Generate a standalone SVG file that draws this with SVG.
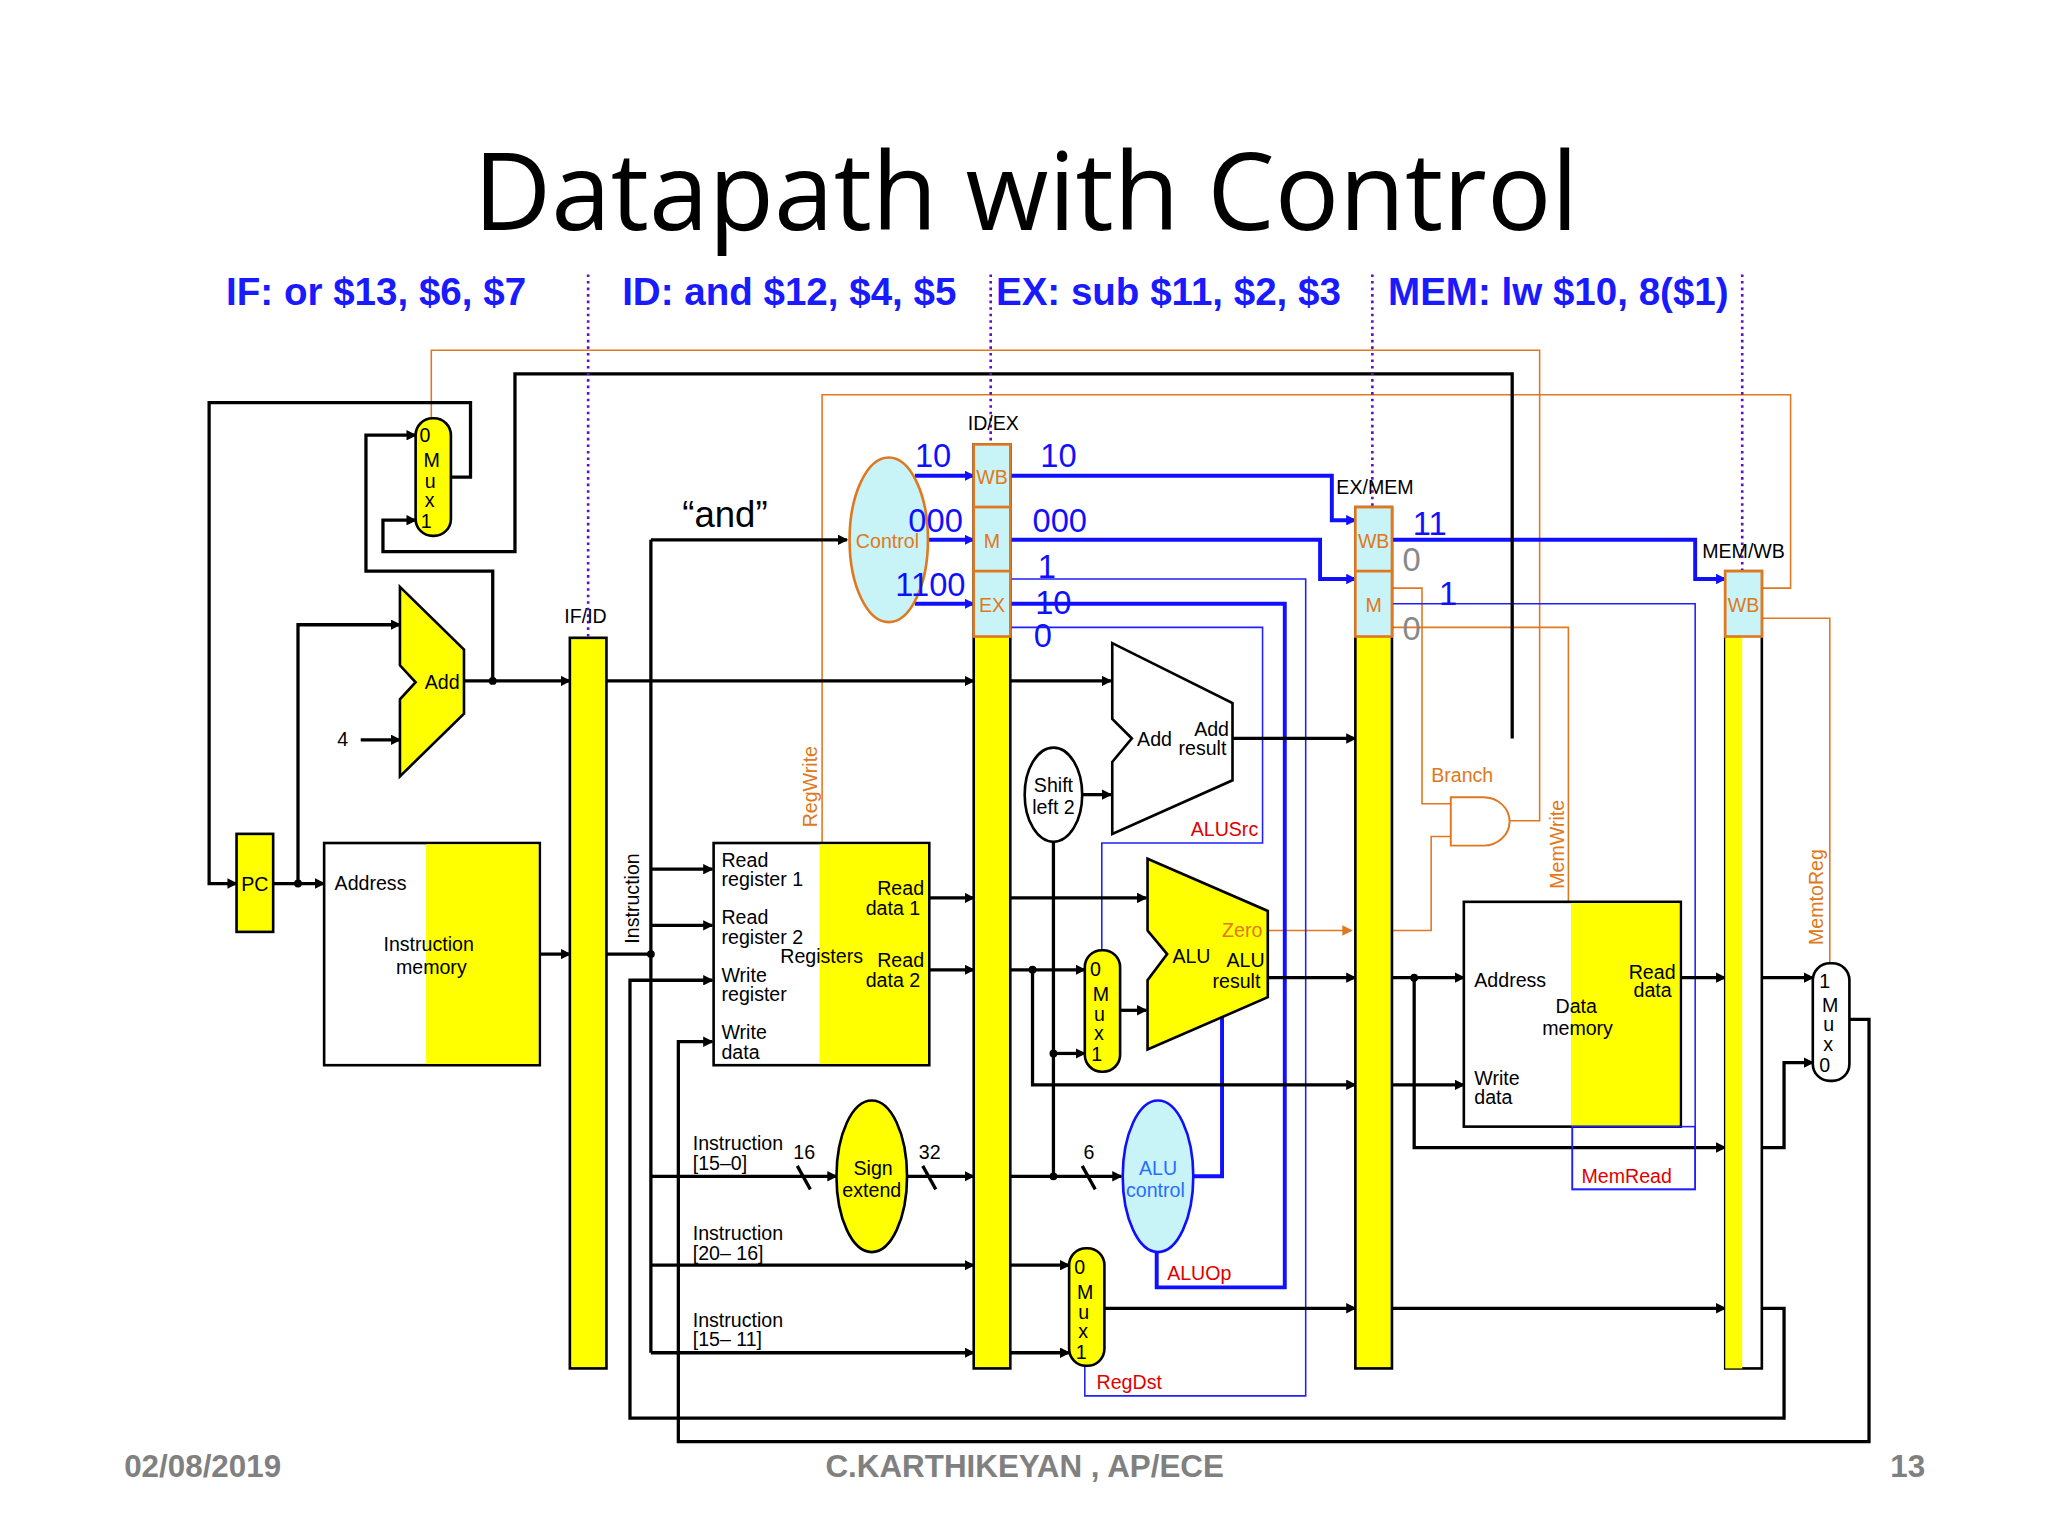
<svg xmlns="http://www.w3.org/2000/svg" width="2048" height="1536" viewBox="0 0 2048 1536">
<defs>
<marker id="ab" markerWidth="8" markerHeight="8" refX="7" refY="4" orient="auto" markerUnits="userSpaceOnUse"><path d="M0,0 L8,4 L0,8 z" fill="#000"/></marker>
<marker id="ao" markerWidth="8" markerHeight="8" refX="7" refY="4" orient="auto" markerUnits="userSpaceOnUse"><path d="M0,0 L8,4 L0,8 z" fill="#e07820"/></marker>
<marker id="au" markerWidth="8" markerHeight="8" refX="7" refY="4" orient="auto" markerUnits="userSpaceOnUse"><path d="M0,0 L8,4 L0,8 z" fill="#1010ff"/></marker>
</defs>
<style>
text{font-family:"Liberation Sans",Arial,sans-serif;fill:#000}
.k{fill:none;stroke:#000;stroke-width:2.5}
.ka{fill:none;stroke:#000;stroke-width:2.5;marker-end:url(#ab)}
.o{fill:none;stroke:#e07820;stroke-width:1.2}
.oa{fill:none;stroke:#e07820;stroke-width:1.2;marker-end:url(#ao)}
.u{fill:none;stroke:#1010ff;stroke-width:3}
.ua{fill:none;stroke:#1010ff;stroke-width:3;marker-end:url(#au)}
.ut{fill:none;stroke:#2020ff;stroke-width:1.2}
.y{fill:#ffff00;stroke:#000;stroke-width:2}
.c{fill:#c8f4f8;stroke:#e07820;stroke-width:2}
.w{fill:#fff;stroke:#000;stroke-width:2}
.s{font-size:15px}
.st{font-size:29.5px;font-weight:bold;fill:#1a1aff}
.ot{fill:#e07820;font-size:15px}
.rt{fill:#e00000;font-size:15px}
.bn{fill:#1010ff;font-size:25px}
.dot{fill:none;stroke:#6010c0;stroke-width:2;stroke-dasharray:2,3}
.ft{font-size:24px;font-weight:bold;fill:#808080}
</style>
<rect width="2048" height="1536" fill="#fff"/>
<g transform="scale(1.307)">
<text x="785" y="176" font-size="82" text-anchor="middle" style="font-family:'Open Sans','Liberation Sans',sans-serif">Datapath with Control</text>
<g id="stages">
<text x="173" y="233" class="st">IF: or $13, $6, $7</text>
<text x="476" y="233" class="st">ID: and $12, $4, $5</text>
<text x="762" y="233" class="st">EX: sub $11, $2, $3</text>
<text x="1062" y="233" class="st">MEM: lw $10, 8($1)</text>
</g>
<g id="footer">
<text x="95" y="1130" class="ft">02/08/2019</text>
<text x="784" y="1130" class="ft" text-anchor="middle">C.KARTHIKEYAN , AP/ECE</text>
<text x="1473" y="1130" class="ft" text-anchor="end">13</text>
</g>

<g id="connectors">
<path class="o" d="M1155,628 H1178 V268 H330 V320"/>
<path class="o" d="M1348,450 H1370 V302 H629 V645"/>
<path class="o" d="M1348,473 H1400 V737"/>
<path class="o" d="M1065,480 H1200 V690"/>
<path class="o" d="M1065,450 H1088 V615 H1110"/>
<path class="oa" d="M970,712 H1034"/>
<path class="o" d="M1065,712 H1095 V640 H1110"/>
<path class="ua" d="M700,364 H745"/>
<path class="ua" d="M708,413 H745"/>
<path class="ua" d="M700,462 H745"/>
<path class="ua" d="M773,364 H1019 V398 H1037"/>
<path class="ua" d="M773,413 H1010 V443 H1037"/>
<path class="u" d="M773,462 H983 V985 H885 V958"/>
<path class="ut" d="M773,443 H999 V1068 H830 V1045"/>
<path class="ut" d="M773,480 H966 V645 H843 V727"/>
<path class="ua" d="M1065,413 H1297 V443 H1320"/>
<path class="ut" d="M1065,462 H1297 V910 H1203 V862"/>
<path class="u" d="M913,900 H935 V778"/>
<path class="ka" d="M345,365 H360 V308 H160 V676 H181"/>
<path class="ka" d="M209,676 H248"/>
<path class="ka" d="M228,676 V478 H306"/>
<path class="ka" d="M276,566 H306"/>
<path class="ka" d="M355,521 H436"/>
<path class="ka" d="M377,521 V437 H280 V333 H318"/>
<path class="ka" d="M1157,565 V286 H394 V422 H293 V398 H318"/>
<path class="ka" d="M413,730 H436"/>
<path class="ka" d="M464,521 H745"/>
<path class="k" d="M464,730 H498 M498,413 V1035"/>
<path class="ka" d="M498,413 H648"/>
<path class="ka" d="M498,665 H545"/>
<path class="ka" d="M498,708 H545"/>
<path class="ka" d="M498,900 H640"/>
<path class="k" d="M610,892 L620,910"/>
<path class="ka" d="M498,968 H745"/>
<path class="ka" d="M498,1035 H745"/>
<path class="ka" d="M1348,1001 H1365 V1085 H482 V750 H545"/>
<path class="ka" d="M1415,780 H1430 V1103 H519 V797 H545"/>
<path class="ka" d="M711,687 H745"/>
<path class="ka" d="M711,742 H745"/>
<path class="ka" d="M694,900 H745"/>
<path class="k" d="M706,892 L716,910"/>
<path class="ka" d="M773,521 H850"/>
<path class="ka" d="M773,687 H877"/>
<path class="ka" d="M773,742 H830"/>
<path class="ka" d="M790,742 V830 H1037"/>
<path class="ka" d="M773,900 H858"/>
<path class="k" d="M828,892 L838,910"/>
<path class="k" d="M806,900 V644"/>
<path class="ka" d="M806,806 H830"/>
<path class="ka" d="M828,608 H850"/>
<path class="ka" d="M857,773 H877"/>
<path class="ka" d="M943,565 H1037"/>
<path class="ka" d="M970,748 H1037"/>
<path class="ka" d="M773,968 H818"/>
<path class="ka" d="M773,1035 H818"/>
<path class="ka" d="M845,1001 H1037"/>
<path class="ka" d="M1065,748 H1120"/>
<path class="ka" d="M1082,748 V878 H1320"/>
<path class="ka" d="M1065,830 H1120"/>
<path class="ka" d="M1065,1001 H1320"/>
<path class="ka" d="M1286,748 H1320"/>
<path class="ka" d="M1348,748 H1387"/>
<path class="ka" d="M1348,878 H1365 V813 H1387"/>
<g fill="#000"><circle cx="228" cy="676" r="3"/><circle cx="377" cy="521" r="3"/><circle cx="498" cy="730" r="3"/><circle cx="790" cy="742" r="3"/><circle cx="806" cy="900" r="3"/><circle cx="806" cy="806" r="3"/><circle cx="1082" cy="748" r="3"/></g>
</g>

<g id="dotted">
<path class="dot" d="M450,210 V495 M758,210 V345 M1050,210 V392 M1333,210 V440"/>
</g>

<g id="pcmux"><rect x="318" y="320" width="27" height="90" rx="13" class="y"/>
<text x="321" y="338" class="s">0</text><text x="324" y="357" class="s">M</text><text x="325" y="373" class="s">u</text><text x="325" y="388" class="s">x</text><text x="322" y="404" class="s">1</text></g>
<g id="pc"><rect x="181" y="638" width="28" height="75" class="y"/><text x="195" y="682" class="s" text-anchor="middle">PC</text></g>
<g id="add1"><path d="M306,449 L355,497 L355,546 L306,594 L306,535 L318,522 L306,509 z" class="y"/><text x="325" y="527" class="s">Add</text><text x="258" y="571" class="s">4</text></g>
<g id="imem"><rect x="248" y="645" width="165" height="170" class="w"/><rect x="326" y="646" width="86" height="168" fill="#ffff00"/>
<text x="256" y="681" class="s">Address</text><text x="328" y="728" class="s" text-anchor="middle">Instruction</text><text x="330" y="745" class="s" text-anchor="middle">memory</text></g>
<g id="ifid"><rect x="436" y="488" width="28" height="559" class="y"/><text x="448" y="477" class="s" text-anchor="middle" font-size="14">IF/ID</text></g>
<text x="489" y="722" class="s" transform="rotate(-90 489 722)">Instruction</text>
<text x="522" y="403" font-size="28">“and”</text>
<g id="control"><ellipse cx="680" cy="413" rx="30" ry="63" class="c"/><text x="679" y="419" class="ot" text-anchor="middle">Control</text>
<text x="700" y="357" class="bn">10</text><text x="695" y="407" class="bn">000</text><text x="685" y="456" class="bn">1100</text></g>
<g id="regs"><rect x="546" y="645" width="165" height="170" class="w"/><rect x="627" y="646" width="83" height="168" fill="#ffff00"/>
<text x="552" y="663" class="s">Read</text><text x="552" y="678" class="s">register 1</text>
<text x="552" y="707" class="s">Read</text><text x="552" y="722" class="s">register 2</text>
<text x="597" y="737" class="s">Registers</text>
<text x="552" y="751" class="s">Write</text><text x="552" y="766" class="s">register</text>
<text x="552" y="795" class="s">Write</text><text x="552" y="810" class="s">data</text>
<text x="707" y="685" class="s" text-anchor="end">Read</text><text x="704" y="700" class="s" text-anchor="end">data 1</text>
<text x="707" y="740" class="s" text-anchor="end">Read</text><text x="704" y="755" class="s" text-anchor="end">data 2</text>
<text x="625" y="633" class="ot" transform="rotate(-90 625 633)">RegWrite</text></g>
<g id="signext"><ellipse cx="667" cy="900" rx="27" ry="58" class="y"/><text x="668" y="899" class="s" text-anchor="middle">Sign</text><text x="667" y="916" class="s" text-anchor="middle">extend</text>
<text x="530" y="880" class="s">Instruction</text><text x="530" y="895" class="s">[15–0]</text><text x="607" y="887" class="s">16</text><text x="703" y="887" class="s">32</text>
<text x="530" y="949" class="s">Instruction</text><text x="530" y="964" class="s">[20– 16]</text>
<text x="530" y="1015" class="s">Instruction</text><text x="530" y="1030" class="s">[15– 11]</text></g>
<g id="idex"><rect x="745" y="340" width="28" height="707" class="y"/>
<rect x="745" y="340" width="28" height="48" class="c"/><rect x="745" y="388" width="28" height="49" class="c"/><rect x="745" y="437" width="28" height="50" class="c"/>
<text x="759" y="370" class="ot" text-anchor="middle">WB</text><text x="759" y="419" class="ot" text-anchor="middle">M</text><text x="759" y="468" class="ot" text-anchor="middle">EX</text>
<text x="760" y="329" class="s" text-anchor="middle" font-size="14">ID/EX</text>
<text x="796" y="357" class="bn">10</text><text x="790" y="407" class="bn">000</text><text x="794" y="442" class="bn">1</text><text x="792" y="470" class="bn">10</text><text x="791" y="495" class="bn">0</text></g>
<g id="add2"><path d="M851,492 L943,538 L943,597 L851,638 L851,583 L866,565 L851,550 z" class="w"/><text x="870" y="571" class="s">Add</text><text x="927" y="563" class="s" text-anchor="middle">Add</text><text x="920" y="578" class="s" text-anchor="middle">result</text></g>
<g id="shift"><ellipse cx="806" cy="608" rx="22" ry="36" class="w"/><text x="806" y="606" class="s" text-anchor="middle">Shift</text><text x="806" y="623" class="s" text-anchor="middle">left 2</text></g>
<text x="911" y="640" class="rt">ALUSrc</text>
<g id="alumux"><rect x="830" y="727" width="27" height="93" rx="13" class="y"/>
<text x="834" y="747" class="s">0</text><text x="836" y="766" class="s">M</text><text x="837" y="781" class="s">u</text><text x="837" y="796" class="s">x</text><text x="835" y="812" class="s">1</text></g>
<g id="alu"><path d="M878,657 L970,697 L970,763 L878,803 L878,750 L893,730 L878,712 z" class="y"/><text x="897" y="737" class="s">ALU</text><text x="953" y="740" class="s" text-anchor="middle">ALU</text><text x="946" y="756" class="s" text-anchor="middle">result</text><text x="935" y="717" class="ot">Zero</text></g>
<g id="aluctl"><ellipse cx="886" cy="900" rx="27" ry="58" fill="#c8f4f8" stroke="#1010ff" stroke-width="2"/><text x="886" y="899" class="s" text-anchor="middle" style="fill:#2a6cff">ALU</text><text x="884" y="916" class="s" text-anchor="middle" style="fill:#2a6cff">control</text><text x="829" y="887" class="s">6</text><text x="893" y="979" class="rt">ALUOp</text></g>
<g id="regdstmux"><rect x="818" y="955" width="27" height="90" rx="13" class="y"/>
<text x="822" y="975" class="s">0</text><text x="824" y="994" class="s">M</text><text x="825" y="1009" class="s">u</text><text x="825" y="1024" class="s">x</text><text x="823" y="1040" class="s">1</text><text x="839" y="1063" class="rt">RegDst</text></g>
<g id="exmem"><rect x="1037" y="388" width="28" height="659" class="y"/>
<rect x="1037" y="388" width="28" height="49" class="c"/><rect x="1037" y="437" width="28" height="50" class="c"/>
<text x="1051" y="419" class="ot" text-anchor="middle">WB</text><text x="1051" y="468" class="ot" text-anchor="middle">M</text>
<text x="1052" y="378" class="s" text-anchor="middle" font-size="14">EX/MEM</text>
<text x="1081" y="409" class="bn">11</text><text x="1073" y="437" class="bn" style="fill:#888">0</text><text x="1101" y="463" class="bn">1</text><text x="1073" y="490" class="bn" style="fill:#888">0</text></g>
<g id="andgate"><path d="M1110,610 H1135 A20,18.5 0 0 1 1135,647 H1110 z" fill="#fff" stroke="#e07820" stroke-width="1.5"/><text x="1095" y="598" class="ot">Branch</text></g>
<g id="dmem"><rect x="1120" y="690" width="166" height="172" class="w"/><rect x="1202" y="691" width="83" height="170" fill="#ffff00"/>
<text x="1128" y="755" class="s">Address</text><text x="1206" y="775" class="s" text-anchor="middle">Data</text><text x="1207" y="792" class="s" text-anchor="middle">memory</text>
<text x="1128" y="830" class="s">Write</text><text x="1128" y="845" class="s">data</text>
<text x="1282" y="749" class="s" text-anchor="end">Read</text><text x="1279" y="763" class="s" text-anchor="end">data</text>
<text x="1197" y="680" class="ot" transform="rotate(-90 1197 680)">MemWrite</text>
<rect x="1203" y="862" width="94" height="48" fill="none" stroke="#2020ff" stroke-width="1.2"/>
<text x="1210" y="905" class="rt">MemRead</text></g>
<g id="memwb"><rect x="1320" y="437" width="28" height="610" class="w"/><rect x="1320" y="487" width="13" height="560" fill="#ffff00"/>
<rect x="1320" y="437" width="28" height="50" class="c"/><text x="1334" y="468" class="ot" text-anchor="middle">WB</text>
<text x="1334" y="427" class="s" text-anchor="middle" font-size="14">MEM/WB</text>
<text x="1395" y="723" class="ot" transform="rotate(-90 1395 723)">MemtoReg</text></g>
<g id="wbmux"><rect x="1387" y="737" width="28" height="90" rx="13" class="w"/>
<text x="1392" y="756" class="s">1</text><text x="1394" y="774" class="s">M</text><text x="1395" y="789" class="s">u</text><text x="1395" y="804" class="s">x</text><text x="1392" y="820" class="s">0</text></g>
</g>
</svg>
